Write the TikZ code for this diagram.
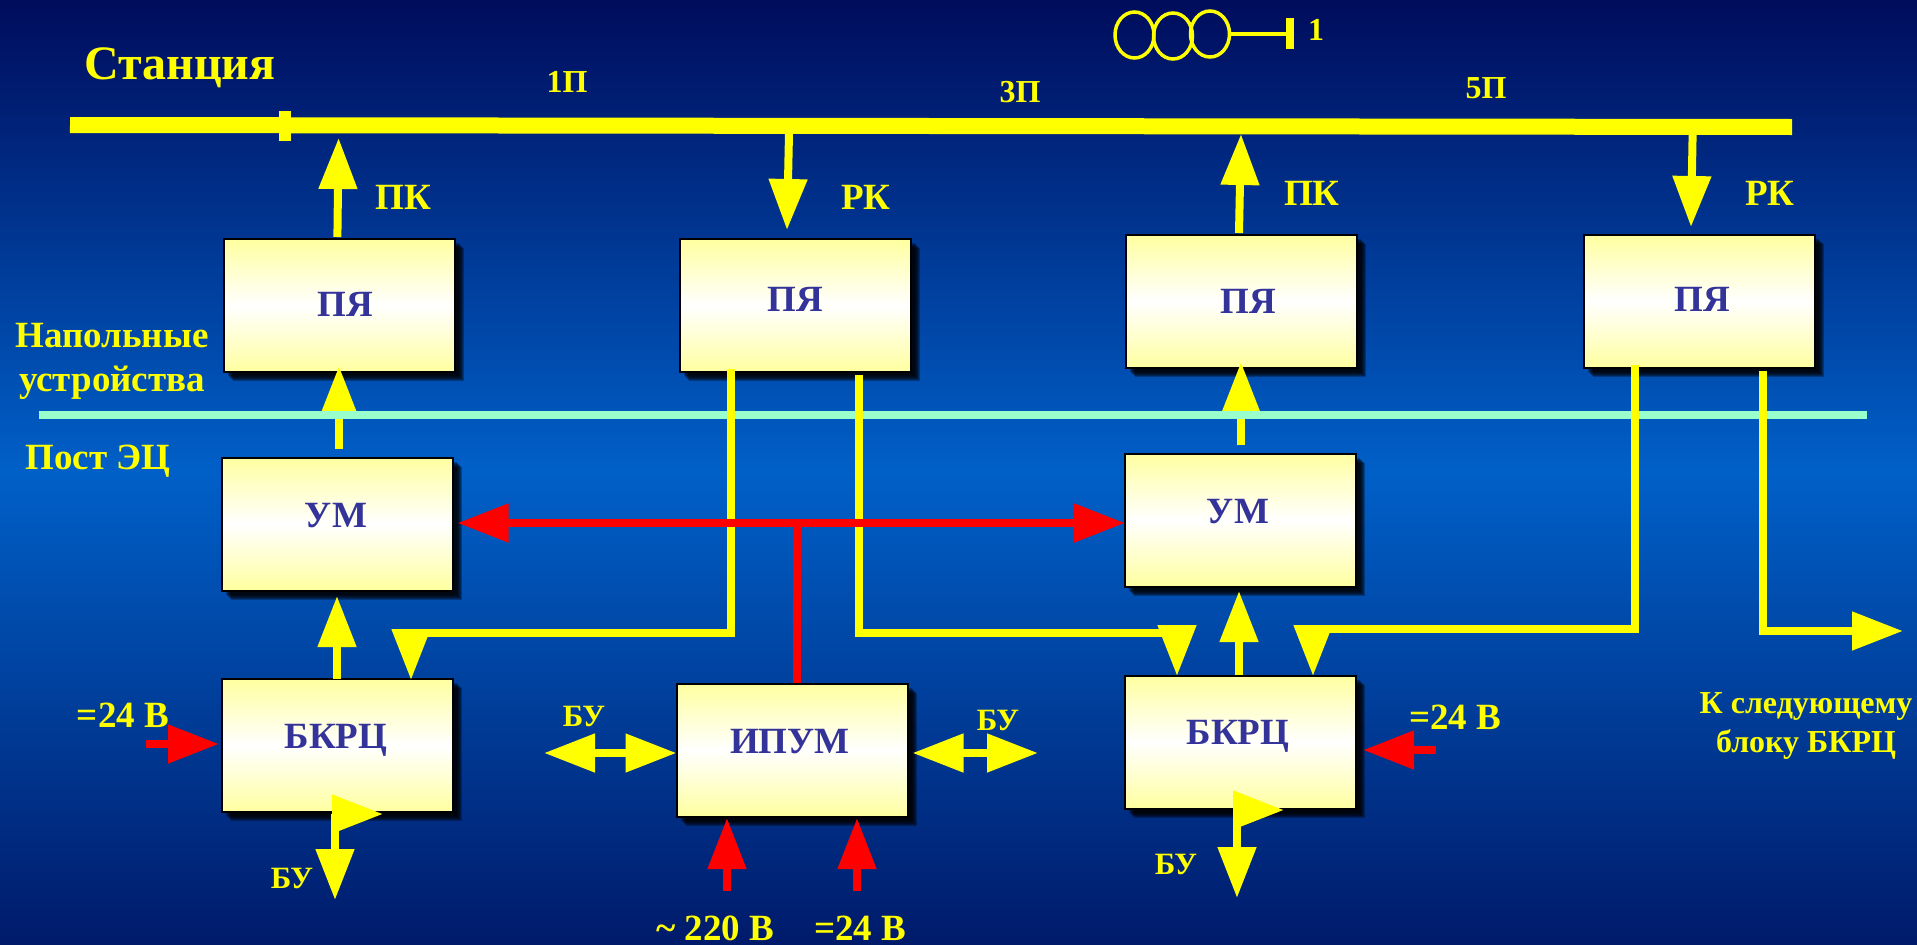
\documentclass[tikz,border=0pt]{standalone}
\usepackage{fontspec}
\setmainfont{Liberation Serif}
\usetikzlibrary{arrows.meta,shadows,shapes.geometric}
\definecolor{bgtop}{HTML}{000C5C}
\definecolor{bgmid}{HTML}{0060C8}
\definecolor{bgbot}{HTML}{001A6A}
\definecolor{boxedge}{HTML}{FFFFA0}
\definecolor{boxtext}{HTML}{333399}
\definecolor{mint}{HTML}{99FFCC}
\definecolor{ylw}{HTML}{FFFF00}
\definecolor{rd}{HTML}{FF0000}
\newcommand{\fs}[1]{\fontsize{#1}{#1}\selectfont\bfseries}
\tikzset{
  x=1pt,y=-1pt,
  softshadow/.style={general shadow={shadow xshift=#1,shadow yshift=-#1,fill=black,opacity=.3}},
  blockbox/.style={draw=black,line width=2pt,minimum width=231pt,minimum height=133pt,inner sep=0pt,
    softshadow=9pt,softshadow=8pt,softshadow=7pt,softshadow=6pt,softshadow=5pt,softshadow=4pt,
    top color=boxedge,bottom color=boxedge,middle color=white},
  coil/.style={draw=ylw,line width=3.5pt,shape=ellipse,minimum width=39pt,minimum height=46pt,inner sep=0pt},
  blocktext/.style={anchor=base,inner sep=0pt,text=boxtext,font=\fs{37}},
  ltext/.style={anchor=base,inner sep=0pt,text=ylw,font=\fs{#1}},
  hd/.style={-{Triangle[length=51pt,width=37pt]}},
  hdd/.style={{Triangle[length=51pt,width=37pt]}-{Triangle[length=51pt,width=37pt]}},
  yline/.style={draw=ylw,line width=8pt,line join=miter},
  rline/.style={draw=rd,line width=8pt,line join=miter},
}
\begin{document}
\begin{tikzpicture}
\useasboundingbox (0,0) rectangle (1917,945);
\shade[top color=bgtop,bottom color=bgbot,middle color=bgmid] (0,0) rectangle (1917,945);

% blocks
\node[blockbox] (pya1) at (339.5,305.5) {};
\node[blockbox] (pya2) at (795.5,305.5) {};
\node[blockbox] (pya3) at (1241,301.5) {};
\node[blockbox] (pya4) at (1699,301.5) {};
\node[blockbox] (um1) at (337.5,524) {};
\node[blockbox] (um3) at (1240,520) {};
\node[blockbox] (bk1) at (337.5,745.5) {};
\node[blockbox] (ipum) at (792,750) {};
\node[blockbox] (bk3) at (1240,742) {};

% station bus
\coordinate (busl) at (70,125);
\coordinate (busr) at (1792,127);
\coordinate (ticka) at (285,111);
\coordinate (tickb) at (285,141);
\draw[draw=ylw,line width=16pt] (busl) -- (busr);
\draw[draw=ylw,line width=12pt] (ticka) -- (tickb);

% coil symbol
\node[coil] (c1) at (1134.5,35) {};
\node[coil] (c2) at (1173,36) {};
\node[coil] (c3) at (1210,34) {};
\coordinate (barm) at (1290,34);
\coordinate (bara) at (1290,18);
\coordinate (barb) at (1290,49);
\draw[draw=ylw,line width=3.2pt] (c3.east) -- (barm);
\draw[draw=ylw,line width=8pt] (bara) -- (barb);

% named ends of the straight connectors
\coordinate (pk1a) at (337.4,237);   \coordinate (pk1b) at (338.6,138);
\coordinate (rk1a) at (789,133);     \coordinate (rk1b) at (787,230);
\coordinate (pk3a) at (1239,233);    \coordinate (pk3b) at (1241,134);
\coordinate (rk4a) at (1692.6,135);  \coordinate (rk4b) at (1691,227);
\coordinate (up1a) at (339,449);     \coordinate (up1b) at (339,366);
\coordinate (up3a) at (1241,445);    \coordinate (up3b) at (1241,362);
\coordinate (bu1a) at (337,679);     \coordinate (bu1b) at (337,596);
\coordinate (bu3a) at (1239,675);    \coordinate (bu3b) at (1239,591);

\draw[yline,hd] (pk1a) -- (pk1b);
\draw[yline,hd] (rk1a) -- (rk1b);
\draw[yline,hd] (pk3a) -- (pk3b);
\draw[yline,hd] (rk4a) -- (rk4b);
\draw[yline,hd] (up1a) -- (up1b);
\draw[yline,hd] (up3a) -- (up3b);
\draw[yline,hd] (bu1a) -- (bu1b);
\draw[yline,hd] (bu3a) -- (bu3b);

% boundary line
\coordinate (mintl) at (39,415);
\coordinate (mintr) at (1867,415);
\draw[draw=mint,line width=8pt] (mintl) -- (mintr);

% elbows
\coordinate (e1a) at (730.5,369); \coordinate (e1b) at (730.5,633); \coordinate (e1c) at (411,633); \coordinate (e1d) at (411,680);
\coordinate (e2a) at (859,375);   \coordinate (e2b) at (859,633);   \coordinate (e2c) at (1177,633); \coordinate (e2d) at (1177,676);
\coordinate (e3a) at (1635,365);  \coordinate (e3b) at (1635,629);  \coordinate (e3c) at (1313,629); \coordinate (e3d) at (1313,676);
\coordinate (e4a) at (1763,371);  \coordinate (e4b) at (1763,631);  \coordinate (e4d) at (1903,631);
\draw[yline,hd] (e1a) -- (e1b) -- (e1c) -- (e1d);
\draw[yline,hd] (e2a) -- (e2b) -- (e2c) -- (e2d);
\draw[yline,hd] (e3a) -- (e3b) -- (e3c) -- (e3d);
\draw[yline,hd] (e4a) -- (e4b) -- (e4d);

% БУ links
\coordinate (d1a) at (544,753);  \coordinate (d1b) at (676.5,753);
\coordinate (d2a) at (912.5,753);\coordinate (d2b) at (1038,753);
\draw[yline,hdd] (d1a) -- (d1b);
\draw[yline,hdd] (d2a) -- (d2b);
\coordinate (f1a) at (335,814);  \coordinate (f1b) at (383,814);
\coordinate (f1c) at (335,900);
\coordinate (f3a) at (1237,810); \coordinate (f3b) at (1284,810);
\coordinate (f3c) at (1237,898);
\draw[yline,hd] (f1a) -- (f1b);
\draw[yline,hd] (f1a) -- (f1c);
\draw[yline,hd] (f3a) -- (f3b);
\draw[yline,hd] (f3a) -- (f3c);

% red power bus
\coordinate (rbl) at (457.5,523);
\coordinate (rbr) at (1125,523);
\coordinate (rbm) at (796.7,523);
\coordinate (ra1) at (146,744);  \coordinate (rb1) at (219,744);
\coordinate (ra2) at (1436,750); \coordinate (rb2) at (1363,750);
\coordinate (ra3) at (727,891);  \coordinate (rb3) at (727,818);
\coordinate (ra4) at (857,891);  \coordinate (rb4) at (857,818);
\draw[rline,hdd] (rbl) -- (rbr);
\draw[rline] (rbm) -- (ipum.north -| rbm);
\draw[rline,hd] (ra1) -- (rb1);
\draw[rline,hd] (ra2) -- (rb2);
\draw[rline,hd] (ra3) -- (rb3);
\draw[rline,hd] (ra4) -- (rb4);

% block labels
\node[blocktext] (tp1) at (345.5,316.5) {ПЯ};
\node[blocktext] (tp2) at (795,311) {ПЯ};
\node[blocktext] (tp3) at (1248,313) {ПЯ};
\node[blocktext] (tp4) at (1702,311) {ПЯ};
\node[blocktext] (tu1) at (336,527) {УМ};
\node[blocktext] (tu3) at (1238,523) {УМ};
\node[blocktext] (tb1) at (336,748) {БКРЦ};
\node[blocktext] (ti) at (790,753) {ИПУМ};
\node[blocktext] (tb3) at (1238,744) {БКРЦ};

% other labels
\node[ltext=48] (st) at (180,79) {Станция};
\node[ltext=32] (l1p) at (567,92) {1П};
\node[ltext=32] (l3p) at (1020,102) {3П};
\node[ltext=32] (l5p) at (1486,98) {5П};
\node[ltext=32] (lone) at (1316,40) {1};
\node[ltext=37] (pk1) at (403.5,209) {ПК};
\node[ltext=37] (rk1) at (866,209) {РК};
\node[ltext=37] (pk3) at (1312,205) {ПК};
\node[ltext=37] (rk4) at (1770,205) {РК};
\node[ltext=37] (nap) at (112,347) {Напольные};
\node[ltext=37] (ust) at (112,391) {устройства};
\node[ltext=37] (post) at (98,469) {Пост ЭЦ};
\node[ltext=37] (v1) at (123,727) {=24 В};
\node[ltext=37] (v2) at (1455,729) {=24 В};
\node[ltext=37] (v3) at (715,940) {\textasciitilde\ 220 В};
\node[ltext=37] (v4) at (860,940) {=24 В};
\node[ltext=31] (b1) at (584,726) {БУ};
\node[ltext=31] (b2) at (998,730) {БУ};
\node[ltext=31] (b3) at (292,888) {БУ};
\node[ltext=31] (b4) at (1176,874) {БУ};
\node[ltext=32] (nx1) at (1806,713) {К следующему};
\node[ltext=32] (nx2) at (1806,752) {блоку БКРЦ};
\end{tikzpicture}
\end{document}
